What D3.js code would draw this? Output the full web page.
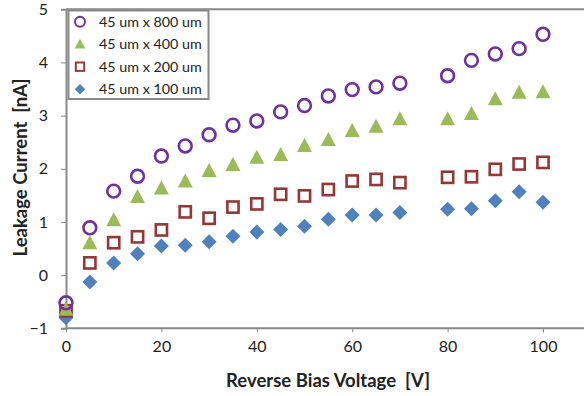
<!DOCTYPE html>
<html><head><meta charset="utf-8">
<script src="https://cdn.jsdelivr.net/npm/d3@7"></script>
<style>body{margin:0;background:#fff}svg{display:block}</style>
</head><body>
<svg id="c" width="584" height="396"></svg>
<script>
const voltage = [0,5,10,15,20,25,30,35,40,45,50,55,60,65,70,80,85,90,95,100];
const s800 = [-0.52,0.89,1.58,1.86,2.24,2.43,2.64,2.82,2.90,3.07,3.19,3.37,3.49,3.54,3.61,3.75,4.04,4.16,4.26,4.53];
const s400 = [-0.65,0.60,1.03,1.47,1.63,1.76,1.96,2.07,2.21,2.26,2.43,2.54,2.71,2.79,2.93,2.93,3.03,3.31,3.43,3.44];
const s200 = [-0.67,0.23,0.61,0.72,0.85,1.19,1.07,1.28,1.34,1.52,1.49,1.61,1.77,1.80,1.74,1.84,1.85,1.99,2.09,2.12];
const s100 = [-0.80,-0.13,0.23,0.40,0.55,0.56,0.63,0.73,0.81,0.86,0.92,1.05,1.13,1.13,1.18,1.24,1.25,1.40,1.57,1.37];
const seriesNames = ["45 um x 800 um","45 um x 400 um","45 um x 200 um","45 um x 100 um"];
const xTicks = [0,20,40,60,80,100];
const yTicks = [-1,0,1,2,3,4,5];

const svg = d3.select("#c");
const font = "Lato, 'Open Sans', sans-serif";
const x = d3.scaleLinear().domain([0,110]).range([66,590.7]);
const y = d3.scaleLinear().domain([-1,5]).range([328.3,9.3]);
const axisCol = "#898989";

svg.append("line").attr("x1",x(0)).attr("x2",584).attr("y1",y(5)).attr("y2",y(5))
  .attr("stroke",axisCol).attr("stroke-width",2);

const gx = svg.append("g").attr("transform",`translate(0,${y(-1)})`)
  .call(d3.axisBottom(x).tickValues(xTicks).tickFormat(d3.format("d")).tickSize(4).tickPadding(8));
const gy = svg.append("g").attr("transform",`translate(${x(0)},0)`)
  .call(d3.axisLeft(y).tickValues(yTicks).tickFormat(d3.format("d")).tickSize(5).tickPadding(13));
[gx,gy].forEach(g=>{
  g.select(".domain").attr("stroke",axisCol).attr("stroke-width",2);
  g.selectAll(".tick line").attr("stroke",axisCol).attr("stroke-width",1);
  g.selectAll("text").attr("font-family",font).attr("font-size",16).attr("fill","#222");
});
gx.select(".domain").attr("d",`M${x(0)},0H584`);

const cols = ["#7030A0","#9BBB59","#953735","#4F81BD"];
const sets = [s800,s400,s200,s100];
function drawMarker(g, k, cx, cy){
  if(k===0) g.append("circle").attr("cx",cx).attr("cy",cy).attr("r",6.4)
      .attr("fill","none").attr("stroke",cols[0]).attr("stroke-width",2.6);
  else if(k===1) g.append("path").attr("transform",`translate(${cx},${cy})`)
      .attr("d","M0,-8L7.5,6L-7.5,6Z").attr("fill",cols[1]);
  else if(k===2) g.append("rect").attr("x",cx-5.6).attr("y",cy-5.6).attr("width",11.2).attr("height",11.2)
      .attr("fill","none").attr("stroke",cols[2]).attr("stroke-width",2.6);
  else g.append("path").attr("transform",`translate(${cx},${cy})`)
      .attr("d","M0,-7.5L7.5,0L0,7.5L-7.5,0Z").attr("fill",cols[3]);
}
const pg = svg.append("g");
[3,2,1,0].forEach(k=>{
  voltage.forEach((v,i)=>drawMarker(pg,k,x(v),y(sets[k][i])));
});

const lg = svg.append("g");
lg.append("rect").attr("x",68.5).attr("y",10.5).attr("width",140).attr("height",88.5)
  .attr("fill","#fff").attr("stroke",axisCol).attr("stroke-width",2);
const rows=[21.7,44.3,66.7,89.3];
seriesNames.forEach((n,k)=>{
  const sc = k===0?0.78:(k===2?0.75:0.7);
  const m = lg.append("g").attr("transform",`translate(80,${rows[k]}) scale(${sc})`);
  drawMarker(m,k,0,0);
  lg.append("text").attr("x",99).attr("y",rows[k]).attr("dy","0.36em")
    .attr("font-family",font).attr("font-size",14.3).attr("fill","#222").text(n);
});

svg.append("text").attr("x",328).attr("y",387).attr("text-anchor","middle")
  .attr("font-family",font).attr("font-weight","bold").attr("font-size",18.5).attr("fill","#222")
  .text("Reverse Bias Voltage\u00a0\u00a0[V]");
svg.append("text").attr("transform","translate(27,167.5) rotate(-90)").attr("text-anchor","middle")
  .attr("font-family",font).attr("font-weight","bold").attr("font-size",18.5).attr("fill","#222")
  .text("Leakage Current\u00a0\u00a0[nA]");
</script>
</body></html>
